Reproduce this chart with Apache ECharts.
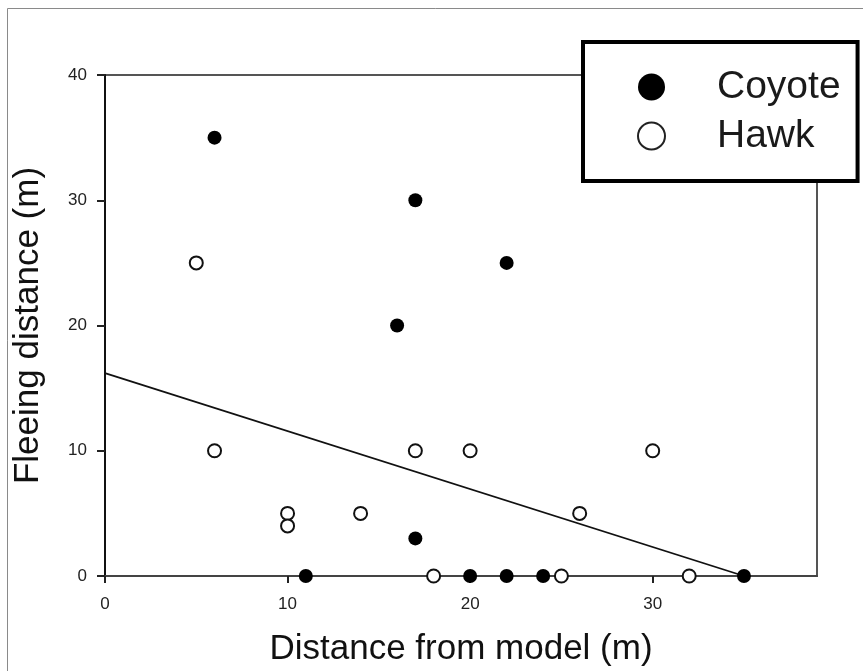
<!DOCTYPE html>
<html>
<head>
<meta charset="utf-8">
<script src="https://cdn.jsdelivr.net/npm/echarts@6/dist/echarts.min.js"></script>
<style>
html,body{margin:0;padding:0;background:#fff;}
#chart{width:863px;height:671px;}
</style>
</head>
<body>
<div id="chart"></div>
<script>
// Data
var coyoteX = [6, 17, 22, 16, 17, 11, 20, 22, 24, 35];
var coyoteY = [35, 30, 25, 20, 3, 0, 0, 0, 0, 0];
var hawkX = [5, 6, 10, 10, 14, 17, 20, 26, 30, 18, 25, 32];
var hawkY = [25, 10, 5, 4, 5, 10, 10, 5, 10, 0, 0, 0];
var fitX = [0, 35];
var fitY = [16.2, 0];
var xTicks = [0, 10, 20, 30];
var yTicks = [0, 10, 20, 30, 40];

function pairs(xs, ys){ return xs.map(function(x,i){ return [x, ys[i]]; }); }

var chart = echarts.init(document.getElementById('chart'), null, {renderer:'canvas'});
var font = '"Liberation Sans", Arial, sans-serif';
chart.setOption({
  backgroundColor: '#fff',
  animation: false,
  graphic: [{
    type: 'rect', silent: true, z: -10,
    shape: {x: 7.5, y: 8.5, width: 900, height: 700},
    style: {fill: 'none', stroke: '#8a8a8a', lineWidth: 1}
  }],
  grid: {
    left: 105, right: 46, top: 75, bottom: 95,
    containLabel: false, outerBoundsMode: 'none',
    show: true, borderColor: '#555', borderWidth: 2, backgroundColor: 'transparent'
  },
  legend: {
    orient: 'vertical',
    left: 583, top: 42,
    padding: [25, 17, 25, 54],
    itemGap: 9,
    itemWidth: 27, itemHeight: 27,
    backgroundColor: '#fff',
    borderColor: '#000', borderWidth: 4,
    textStyle: {fontFamily: font, fontSize: 39, color: '#1a1a1a', lineHeight: 40, padding: [0, 0, 0, 47]},
    data: [
      {name: 'Coyote', icon: 'circle', itemStyle: {color: '#000', borderColor: '#000', borderWidth: 0}},
      {name: 'Hawk', icon: 'circle', itemStyle: {color: '#fff', borderColor: '#222', borderWidth: 2}}
    ]
  },
  xAxis: {
    type: 'value', min: 0, max: 39, interval: 10,
    name: 'Distance from model (m)', nameLocation: 'middle', nameGap: 56,
    nameTextStyle: {fontFamily: font, fontSize: 35, color: '#111'},
    splitLine: {show: false},
    axisLine: {show: true, lineStyle: {color: '#444', width: 2}},
    axisTick: {show: true, length: 7, inside: false, customValues: xTicks, lineStyle: {color: '#222', width: 2}},
    axisLabel: {fontFamily: font, fontSize: 17, color: '#222', margin: 20, customValues: xTicks}
  },
  yAxis: {
    type: 'value', min: 0, max: 40, interval: 10,
    name: 'Fleeing distance (m)', nameLocation: 'middle', nameGap: 59, nameRotate: 90,
    nameTextStyle: {fontFamily: font, fontSize: 35, color: '#111'},
    splitLine: {show: false},
    axisLine: {show: true, lineStyle: {color: '#111', width: 2}},
    axisTick: {show: true, length: 8, lineStyle: {color: '#222', width: 2}},
    axisLabel: {fontFamily: font, fontSize: 17, color: '#222', margin: 18, customValues: yTicks}
  },
  series: [
    {
      name: 'fit', type: 'line', data: pairs(fitX, fitY),
      showSymbol: false, symbol: 'none', silent: true,
      lineStyle: {color: '#111', width: 1.8}, z: 1
    },
    {
      name: 'Coyote', type: 'scatter', data: pairs(coyoteX, coyoteY),
      symbol: 'circle', symbolSize: 14,
      itemStyle: {color: '#000', opacity: 1}, z: 3
    },
    {
      name: 'Hawk', type: 'scatter', data: pairs(hawkX, hawkY),
      symbol: 'circle', symbolSize: 13,
      itemStyle: {color: '#fff', borderColor: '#111', borderWidth: 2, opacity: 1}, z: 3
    }
  ]
});
</script>
</body>
</html>
